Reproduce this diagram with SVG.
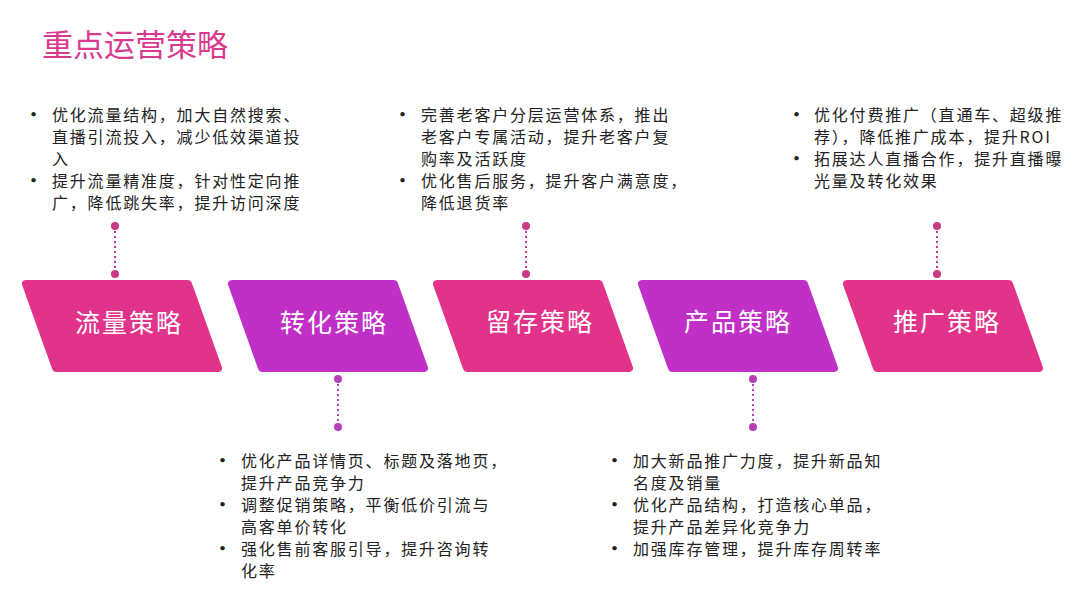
<svg xmlns="http://www.w3.org/2000/svg" width="1080" height="608" viewBox="0 0 1080 608">
<style>
.title{font-family:"Noto Sans CJK SC","Noto Sans",sans-serif;font-size:31px;fill:#D93A8E}
.lbl{font-family:"Noto Sans CJK SC","Noto Sans",sans-serif;font-size:25px;fill:#ffffff;text-anchor:middle;letter-spacing:2px}
.txt{font-family:"Noto Sans CJK SC","Noto Sans",sans-serif;font-size:16px;letter-spacing:1.8px;fill:#222222}
.bul{font-family:"Noto Sans CJK SC","Noto Sans",sans-serif;font-size:17px;font-weight:bold;fill:#222222}
.pink{fill:#E2338A;stroke:#E2338A;stroke-width:8;stroke-linejoin:round}
.purple{fill:#C130C6;stroke:#C130C6;stroke-width:8;stroke-linejoin:round}
.cp{stroke:#C93A84;stroke-width:2;stroke-dasharray:2 3;fill:none}
.cv{stroke:#B83DB8;stroke-width:2;stroke-dasharray:2 3;fill:none}
.dp{fill:#C93A84}
.dv{fill:#B83DB8}
</style>
<defs>
<polygon id="para" points="4,4 166,4 196,88 34,88"/>
</defs>
<text class="title" x="42" y="56">重点运营策略</text>

<g id="connectors">
<line class="cp" x1="115" y1="226" x2="115" y2="274"/>
<circle class="dp" cx="115" cy="226" r="4"/><circle class="dp" cx="115" cy="274" r="4"/>
<line class="cp" x1="526" y1="226" x2="526" y2="274"/>
<circle class="dp" cx="526" cy="226" r="4"/><circle class="dp" cx="526" cy="274" r="4"/>
<line class="cp" x1="937" y1="226" x2="937" y2="274"/>
<circle class="dp" cx="937" cy="226" r="4"/><circle class="dp" cx="937" cy="274" r="4"/>
<line class="cv" x1="338" y1="379" x2="338" y2="427"/>
<circle class="dv" cx="338" cy="379" r="4"/><circle class="dv" cx="338" cy="427" r="4"/>
<line class="cv" x1="753" y1="379" x2="753" y2="427"/>
<circle class="dv" cx="753" cy="379" r="4"/><circle class="dv" cx="753" cy="427" r="4"/>
</g>

<g id="node-traffic">
<use href="#para" class="pink" transform="translate(22,280)"/>
<text class="lbl" x="129" y="332">流量策略</text>
</g>
<g id="node-conversion">
<use href="#para" class="purple" transform="translate(228,280)"/>
<text class="lbl" x="334" y="332">转化策略</text>
</g>
<g id="node-retention">
<use href="#para" class="pink" transform="translate(433,280)"/>
<text class="lbl" x="540" y="331">留存策略</text>
</g>
<g id="node-product">
<use href="#para" class="purple" transform="translate(638,280)"/>
<text class="lbl" x="738" y="331">产品策略</text>
</g>
<g id="node-promotion">
<use href="#para" class="pink" transform="translate(843,280)"/>
<text class="lbl" x="947" y="331">推广策略</text>
</g>

<g id="text-traffic">
<text class="bul" x="25" y="121">•</text>
<text class="bul" x="25" y="187">•</text>
<text class="txt" x="52" y="121">优化流量结构，加大自然搜索、</text>
<text class="txt" x="52" y="143">直播引流投入，减少低效渠道投</text>
<text class="txt" x="52" y="165">入</text>
<text class="txt" x="52" y="187">提升流量精准度，针对性定向推</text>
<text class="txt" x="52" y="209">广，降低跳失率，提升访问深度</text>
</g>

<g id="text-retention">
<text class="bul" x="394" y="121">•</text>
<text class="bul" x="394" y="187">•</text>
<text class="txt" x="421" y="121">完善老客户分层运营体系，推出</text>
<text class="txt" x="421" y="143">老客户专属活动，提升老客户复</text>
<text class="txt" x="421" y="165">购率及活跃度</text>
<text class="txt" x="421" y="187">优化售后服务，提升客户满意度，</text>
<text class="txt" x="421" y="209">降低退货率</text>
</g>

<g id="text-promotion">
<text class="bul" x="788" y="121">•</text>
<text class="bul" x="788" y="165">•</text>
<text class="txt" x="814" y="121">优化付费推广（直通车、超级推</text>
<text class="txt" x="814" y="143">荐），降低推广成本，提升ROI</text>
<text class="txt" x="814" y="165">拓展达人直播合作，提升直播曝</text>
<text class="txt" x="814" y="187">光量及转化效果</text>
</g>

<g id="text-conversion">
<text class="bul" x="214" y="467">•</text>
<text class="bul" x="214" y="511">•</text>
<text class="bul" x="214" y="555">•</text>
<text class="txt" x="241" y="467">优化产品详情页、标题及落地页，</text>
<text class="txt" x="241" y="489">提升产品竞争力</text>
<text class="txt" x="241" y="511">调整促销策略，平衡低价引流与</text>
<text class="txt" x="241" y="533">高客单价转化</text>
<text class="txt" x="241" y="555">强化售前客服引导，提升咨询转</text>
<text class="txt" x="241" y="577">化率</text>
</g>

<g id="text-product">
<text class="bul" x="606" y="467">•</text>
<text class="bul" x="606" y="511">•</text>
<text class="bul" x="606" y="555">•</text>
<text class="txt" x="633" y="467">加大新品推广力度，提升新品知</text>
<text class="txt" x="633" y="489">名度及销量</text>
<text class="txt" x="633" y="511">优化产品结构，打造核心单品，</text>
<text class="txt" x="633" y="533">提升产品差异化竞争力</text>
<text class="txt" x="633" y="555">加强库存管理，提升库存周转率</text>
</g>
</svg>
